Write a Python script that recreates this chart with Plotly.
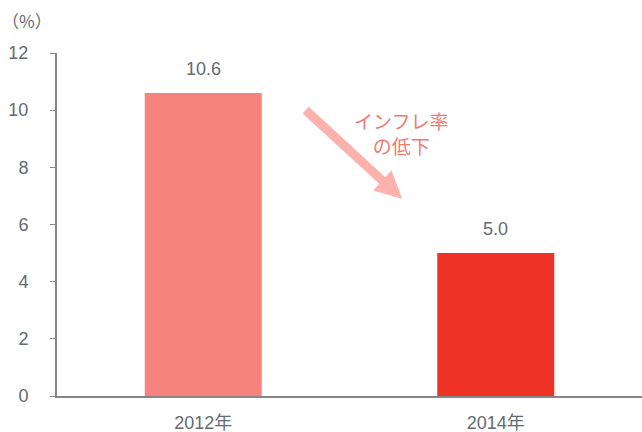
import plotly.graph_objects as go

categories = ["2012年", "2014年"]
values = [10.6, 5.0]
bar_colors = ["#F6837D", "#EE3326"]
y_ticks = [0, 2, 4, 6, 8, 10, 12]

FONT = "Liberation Sans, Arial, Noto Sans CJK JP, sans-serif"
GRAY = "#636A73"

fig = go.Figure()
fig.add_trace(go.Bar(
    x=[0, 1], y=values, marker=dict(color=bar_colors, line=dict(width=0)),
    width=0.40, hoverinfo="skip",
))

for i, v in enumerate(values):
    fig.add_annotation(x=i, y=v, text=f"{v:.1f}", showarrow=False,
                       yanchor="bottom", yshift=12,
                       font=dict(size=18, color=GRAY, family=FONT))

# arrow
fig.add_annotation(x=0.68, y=6.9, ax=0.345, ay=10.05, xref="x", yref="y",
                   axref="x", ayref="y", text="", showarrow=True,
                   arrowhead=2, arrowsize=0.6, arrowwidth=9,
                   arrowcolor="#FCB1AC")
fig.add_annotation(x=0.675, y=9.2, xref="x", yref="y",
                   text="インフレ率<br>の低下", showarrow=False,
                   align="center",
                   font=dict(size=19, color="#F07A72", family="Noto Sans CJK JP"))

# (%) label
fig.add_annotation(x=-30 / 585, y=1 + (53 - 21) / 343, xref="paper", yref="paper",
                   text="（%）", showarrow=False, xanchor="center", yanchor="middle",
                   font=dict(size=17, color=GRAY, family="Noto Sans CJK JP"))

fig.update_layout(
    width=642, height=432,
    margin=dict(l=57, r=0, t=53, b=36, autoexpand=False),
    paper_bgcolor="white", plot_bgcolor="white",
    showlegend=False,
    font=dict(family=FONT, color=GRAY, size=18),
    xaxis=dict(
        range=[-0.5, 1.5], tickmode="array", tickvals=[0, 1], ticktext=categories,
        showline=True, linecolor="#868686", linewidth=2, ticks="",
        showgrid=False, zeroline=False, ticklabelstandoff=9,
        tickfont=dict(size=18, color=GRAY, family=FONT), automargin=False,
    ),
    yaxis=dict(
        range=[0, 12], tickvals=y_ticks, showline=True, linecolor="#868686",
        linewidth=2, ticks="outside", ticklen=5, tickcolor="#868686",
        showgrid=False, zeroline=False, ticklabelstandoff=18,
        tickfont=dict(size=18, color=GRAY, family=FONT), automargin=False,
    ),
)

fig.write_html("out.html", config={"displayModeBar": False},
               post_script="document.body.style.margin='0';document.body.style.overflow='hidden';")
